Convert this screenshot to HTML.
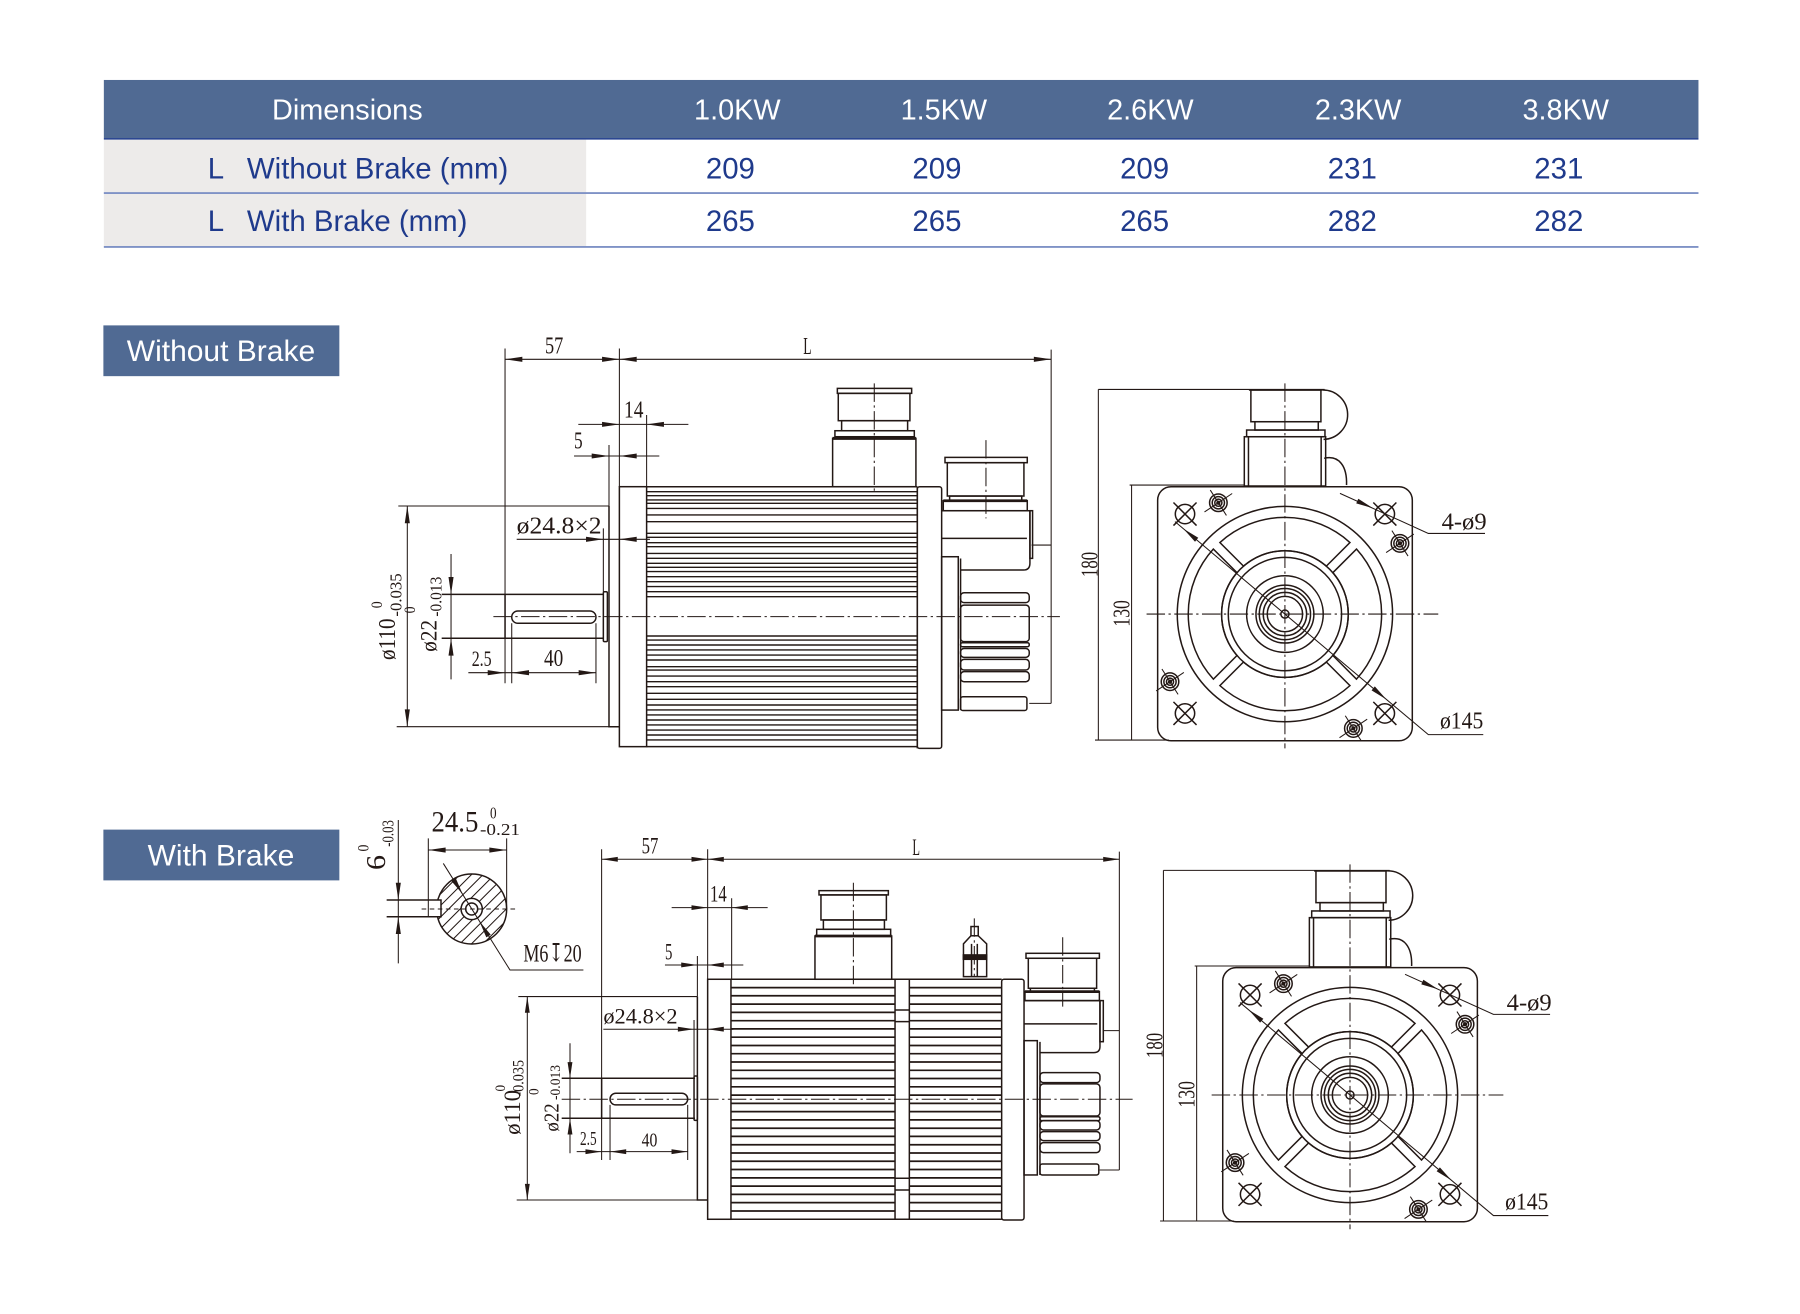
<!DOCTYPE html>
<html><head><meta charset="utf-8">
<style>
html,body{margin:0;padding:0;background:#fff;}
svg{display:block;}
.o{fill:none;stroke:#231815;stroke-width:1.3;}
.t{fill:none;stroke:#231815;stroke-width:0.9;}
.c{fill:none;stroke:#231815;stroke-width:0.9;stroke-dasharray:16 3 2 3;}
.a{fill:#231815;stroke:none;}
.d{font-family:"Liberation Serif","DejaVu Serif",serif;fill:#231815;}
.s{font-family:"Liberation Sans",Arial,sans-serif;}
</style></head><body>
<svg width="1800" height="1314" viewBox="0 0 1560 1138.8" preserveAspectRatio="none" xmlns="http://www.w3.org/2000/svg">
<defs>
<clipPath id="cp"><circle cx="408.8" cy="787.8" r="30.3"/></clipPath>
<g id="fv">
 <g class="o">
  <rect x="-110.3" y="-110.4" width="220.7" height="220.2" rx="11.6"/>
  <circle r="93.3"/><circle r="54.9"/><circle r="49.1"/><circle r="33.2"/><circle r="25.1"/><circle r="22.2"/><circle r="18.8"/><circle r="15.3"/><circle r="3.5"/>
  <path d="M-35.89,-41.54 L-56.36,-62.01 A83.8,83.8 0 0 1 56.36,-62.01 L35.89,-41.54 A54.9,54.9 0 0 0 -35.89,-41.54 Z"/>
  <path transform="rotate(90)" d="M-35.89,-41.54 L-56.36,-62.01 A83.8,83.8 0 0 1 56.36,-62.01 L35.89,-41.54 A54.9,54.9 0 0 0 -35.89,-41.54 Z"/>
  <path transform="rotate(180)" d="M-35.89,-41.54 L-56.36,-62.01 A83.8,83.8 0 0 1 56.36,-62.01 L35.89,-41.54 A54.9,54.9 0 0 0 -35.89,-41.54 Z"/>
  <path transform="rotate(270)" d="M-35.89,-41.54 L-56.36,-62.01 A83.8,83.8 0 0 1 56.36,-62.01 L35.89,-41.54 A54.9,54.9 0 0 0 -35.89,-41.54 Z"/>
  <!-- holes -->
  <g transform="translate(-86.6,-86.7)"><circle r="8.4"/><path d="M-10 -10L10 10M-10 10L10 -10"/></g>
  <g transform="translate(86.6,-86.7)"><circle r="8.4"/><path d="M-10 -10L10 10M-10 10L10 -10"/></g>
  <g transform="translate(-86.6,86.1)"><circle r="8.4"/><path d="M-10 -10L10 10M-10 10L10 -10"/></g>
  <g transform="translate(86.6,86.1)"><circle r="8.4"/><path d="M-10 -10L10 10M-10 10L10 -10"/></g>
  <!-- connector -->
  <path d="M-31.2 -194.2H32.4"/>
  <rect x="-29.5" y="-194.2" width="60.7" height="27.5"/>
  <rect x="-26" y="-166.7" width="54.9" height="7.2"/>
  <rect x="-33.2" y="-159.5" width="67.9" height="5.8"/>
  <rect x="-35.2" y="-153.7" width="70.5" height="42.7"/>
  <path d="M-31.6 -153.7V-111M31.4 -153.7V-111"/>
  <path d="M32.4 -194.2 A21.4 21.4 0 0 1 33.5 -151.4"/>
  <path d="M34 -135 C47 -138 54 -128 53.4 -111.8"/>
 </g>
 <!-- screws -->
 <g class="o" stroke-width="1.5">
  <g transform="translate(-57.7,-96.5)"><circle r="7.6"/><circle r="5.3"/><circle r="3.1"/><circle r="1.2" fill="#231815"/><path class="t" d="M-12 8L12 -8M-7 -11L7 11"/></g>
  <g transform="translate(99.7,-61.3)"><circle r="7.6"/><circle r="5.3"/><circle r="3.1"/><circle r="1.2" fill="#231815"/><path class="t" d="M-12 8L12 -8M-7 -11L7 11"/></g>
  <g transform="translate(-99.6,58.6)"><circle r="7.6"/><circle r="5.3"/><circle r="3.1"/><circle r="1.2" fill="#231815"/><path class="t" d="M-12 8L12 -8M-7 -11L7 11"/></g>
  <g transform="translate(59.3,99.1)"><circle r="7.6"/><circle r="5.3"/><circle r="3.1"/><circle r="1.2" fill="#231815"/><path class="t" d="M-12 8L12 -8M-7 -11L7 11"/></g>
 </g>
 <path class="c" d="M-119.9 0H132.9M0 -199.9V116.4"/>
 <!-- dims -->
 <path class="t" d="M-161.7 -194.7V109.2M-161.7 -194.7H34.4M-164.6 109.2H-100.6M-132.9 -111.8V109.2M-134.6 -111.8H-34.6"/>
 <path class="t" d="M47.7 -104.6L124.3 -69.9H173.4M-95.3 -80.1L124.3 104.5H171.9"/>
 <polygon class="a" points="76.4,-91.7 61.8,-95.9 63.6,-99.9"/>
 <polygon class="a" points="-88,-74 -75.1,-66.1 -77.9,-62.7"/>
 <polygon class="a" points="88,74 77.9,62.7 75.1,66.1"/>
</g>
</defs>

<!-- TABLE -->
<rect x="90" y="69.3" width="1382" height="50.5" fill="#506a93"/>
<rect x="90" y="121" width="418" height="93" fill="#edebea"/>
<line x1="90" y1="120.3" x2="1472" y2="120.3" stroke="#2c4792" stroke-width="1.4"/>
<line x1="90" y1="167.3" x2="1472" y2="167.3" stroke="#7f92c6" stroke-width="1.6"/>
<line x1="90" y1="214" x2="1472" y2="214" stroke="#7f92c6" stroke-width="1.6"/>
<g class="s" font-size="25" fill="#fff" text-anchor="middle">
<text x="301" y="103.4">Dimensions</text>
<text x="639" y="103.4">1.0KW</text>
<text x="818" y="103.4">1.5KW</text>
<text x="997" y="103.4">2.6KW</text>
<text x="1177" y="103.4">2.3KW</text>
<text x="1357" y="103.4">3.8KW</text>
</g>
<g class="s" font-size="25.5" fill="#1f3a8c">
<text x="180" y="154.5">L</text><text x="214" y="154.5">Without Brake (mm)</text>
<text x="180" y="200">L</text><text x="214" y="200">With Brake (mm)</text>
<g text-anchor="middle">
<text x="633" y="154.5">209</text><text x="812" y="154.5">209</text><text x="992" y="154.5">209</text><text x="1172" y="154.5">231</text><text x="1351" y="154.5">231</text>
<text x="633" y="200">265</text><text x="812" y="200">265</text><text x="992" y="200">265</text><text x="1172" y="200">282</text><text x="1351" y="200">282</text>
</g></g>

<!-- LABEL BOXES -->
<rect x="89.6" y="282" width="204.5" height="44" fill="#506a93"/>
<text class="s" x="191.5" y="313" font-size="26" fill="#fff" text-anchor="middle">Without Brake</text>
<rect x="89.6" y="719" width="204.5" height="44" fill="#506a93"/>
<text class="s" x="191.5" y="750" font-size="26" fill="#fff" text-anchor="middle">With Brake</text>

<!-- ============ SIDE VIEW 1 ============ -->
<g class="t">
 <path d="M437.7 311.4H911M437.7 302V592.2M536.8 302V421.8M911 303V609.6M894 472.4H911M892 609.6H911"/>
 <path d="M501.2 367.8H596.6M560.4 359.7V421.8M497.5 395.2H571.4M527.8 385.7V438.5"/>
 <path d="M345.2 438.5H527.8M343.8 629.8H527.8M353 438.5V629.8M390.9 480.1V588.8"/>
 <path d="M405.9 583H516.5M443.5 540.2V592.2M516.5 540.2V592.2M447.8 467.4H563.3M522.9 457.9V512.8"/>
</g>
<g class="a">
 <polygon points="437.7,311.4 452.7,309.2 452.7,313.6"/>
 <polygon points="536.8,311.4 521.8,309.2 521.8,313.6"/>
 <polygon points="536.8,311.4 551.8,309.2 551.8,313.6"/>
 <polygon points="911,311.4 896,309.2 896,313.6"/>
 <polygon points="536.8,367.8 521.8,365.6 521.8,370"/>
 <polygon points="560.4,367.8 575.4,365.6 575.4,370"/>
 <polygon points="527.8,395.2 512.8,393 512.8,397.4"/>
 <polygon points="536.8,395.2 551.8,393 551.8,397.4"/>
 <polygon points="353,438.5 350.8,453.5 355.2,453.5"/>
 <polygon points="353,629.8 350.8,614.8 355.2,614.8"/>
 <polygon points="390.9,515.1 388.7,500.1 393.1,500.1"/>
 <polygon points="390.9,553.2 388.7,568.2 393.1,568.2"/>
 <polygon points="437.7,583 422.7,580.8 422.7,585.2"/>
 <polygon points="443.5,583 458.5,580.8 458.5,585.2"/>
 <polygon points="516.5,583 501.5,580.8 501.5,585.2"/>
 <polygon points="522.9,467.4 507.9,465.2 507.9,469.6"/>
 <polygon points="536.8,467.4 551.8,465.2 551.8,469.6"/>
</g>
<g class="o">
 <path d="M382.8 515.1H522.9M382.8 553.2H522.9M437.7 515.1V553.2"/>
 <rect x="522.9" y="512.8" width="3.5" height="43.3" rx="1"/>
 <rect x="443.5" y="529.5" width="73" height="10.7" rx="5.3"/>
 <path d="M527.8 438.5V629.8H536.8"/>
 <rect x="536.8" y="421.8" width="23.6" height="225.3"/>
 <path d="M560.4 421.8H795M560.4 647.1H795M795 421.8V648.6"/>
 <rect x="795" y="421.8" width="21.1" height="226.8" rx="2"/>
 <path stroke-width="1.2" d="M560.4 426.1H795M560.4 429.6H795M560.4 433.3H795M560.4 436.2H795M560.4 440.6H795M560.4 446.3H795M560.4 452.1H795M560.4 462.2H795M560.4 465.7H795M560.4 470.3H795M560.4 473.8H795M560.4 479.6H795M560.4 483.9H795M560.4 488.2H795M560.4 491.7H795M560.4 495.4H795M560.4 499.8H795M560.4 504.1H795M560.4 508.4H795M560.4 512.8H795M560.4 517.1H795M560.4 551.2H795M560.4 554.7H795M560.4 559H795M560.4 563.3H795M560.4 567.7H795M560.4 572H795M560.4 577.8H795M560.4 580.7H795M560.4 585.9H795M560.4 590.8H795M560.4 595.1H795M560.4 600.9H795M560.4 606.1H795M560.4 611H795M560.4 615.3H795M560.4 619.6H795M560.4 624H795M560.4 628.3H795M560.4 632.7H795M560.4 637H795M560.4 641.3H795"/>
 <!-- connector 1 -->
 <rect x="725.7" y="336.6" width="64.4" height="4.3"/>
 <rect x="726.5" y="340.9" width="62.1" height="23.7"/>
 <rect x="729.4" y="364.6" width="57.2" height="8.7"/>
 <rect x="723.6" y="373.3" width="68.8" height="5.2"/>
 <rect x="721.6" y="379.9" width="72.2" height="41.9"/>
 <path stroke-width="2.6" d="M721.6 379.9H793.8"/>
 <!-- connector 2 -->
 <rect x="819" y="396.4" width="71.3" height="4.6"/>
 <rect x="821" y="401" width="66.4" height="28.9"/>
 <rect x="823" y="429.9" width="62.5" height="4.1"/>
 <rect x="817.5" y="434" width="72.8" height="8.6"/>
 <path stroke-width="2.4" d="M817.5 434H890.3"/>
 <!-- encoder cover -->
 <path d="M816.1 442.6H892.6V488Q892.6 494 887 494H832.5M816.1 466.6H890"/>
 <rect x="892.6" y="442.6" width="2.3" height="41.3"/>
 <rect x="816.1" y="482.5" width="14.4" height="132.9"/>
 <path d="M832.5 484V615.4"/>
 <rect x="832.5" y="513.7" width="59.5" height="8.6" rx="3"/>
 <rect x="832.5" y="524.4" width="59.5" height="31.7" rx="3"/>
 <rect x="832.5" y="557" width="59.5" height="3.5" rx="1.5"/>
 <rect x="832.5" y="562" width="59.5" height="7.7" rx="3"/>
 <rect x="832.5" y="571.5" width="59.5" height="9.2" rx="3"/>
 <rect x="832.5" y="582.1" width="59.5" height="8.7" rx="3"/>
 <rect x="832.5" y="603.8" width="57.5" height="12" rx="2"/>
</g>
<path class="c" d="M427.6 534.4H918.6M757.7 332.3V425.3M854.5 381.4V449.3"/>
<g class="d" font-size="21">
 <text x="472.3" y="306.2" textLength="15.9" lengthAdjust="spacingAndGlyphs">57</text>
 <text x="696.2" y="306.8" textLength="7.2" lengthAdjust="spacingAndGlyphs">L</text>
 <text x="540.8" y="361.7" textLength="16.8" lengthAdjust="spacingAndGlyphs">14</text>
 <text x="497.5" y="388.8" textLength="7.5" lengthAdjust="spacingAndGlyphs">5</text>
 <text x="447.8" y="462.2" textLength="73.6" lengthAdjust="spacingAndGlyphs">ø24.8×2</text>
 <text x="408.8" y="577.2" font-size="19" textLength="17.3" lengthAdjust="spacingAndGlyphs">2.5</text>
 <text x="471.5" y="577.2" textLength="16.7" lengthAdjust="spacingAndGlyphs">40</text>
 <text transform="translate(342.3,572) rotate(-90)" textLength="36" lengthAdjust="spacingAndGlyphs">ø110</text>
 <text transform="translate(331,527.2) rotate(-90)" font-size="14" textLength="6" lengthAdjust="spacingAndGlyphs">0</text>
 <text transform="translate(348,534.4) rotate(-90)" font-size="15" textLength="37.5" lengthAdjust="spacingAndGlyphs">-0.035</text>
 <text transform="translate(378.4,564.8) rotate(-90)" font-size="20" textLength="27.5" lengthAdjust="spacingAndGlyphs">ø22</text>
 <text transform="translate(359.7,531.6) rotate(-90)" font-size="14" textLength="6" lengthAdjust="spacingAndGlyphs">0</text>
 <text transform="translate(382.8,534.4) rotate(-90)" font-size="15" textLength="34.6" lengthAdjust="spacingAndGlyphs">-0.013</text>
</g>

<!-- FRONT VIEW 1 -->
<use href="#fv" transform="translate(1113.6,532.2)"/>
<g class="d" font-size="21" transform="translate(1113.6,532.2)">
 <text transform="translate(-162.5,-32.1) rotate(-90)" textLength="21.8" lengthAdjust="spacingAndGlyphs">180</text>
 <text transform="translate(-134.6,10.9) rotate(-90)" textLength="23" lengthAdjust="spacingAndGlyphs">130</text>
 <text x="135.8" y="-73.4" textLength="39" lengthAdjust="spacingAndGlyphs">4-ø9</text>
 <text x="134.4" y="99.1" textLength="37.5" lengthAdjust="spacingAndGlyphs">ø145</text>
</g>

<!-- SHAFT SECTION DETAIL -->
<g clip-path="url(#cp)" class="t">
 <path d="M313.8 822.8L383.8 752.8M323.8 822.8L393.8 752.8M333.8 822.8L403.8 752.8M343.8 822.8L413.8 752.8M353.8 822.8L423.8 752.8M363.8 822.8L433.8 752.8M373.8 822.8L443.8 752.8M383.8 822.8L453.8 752.8M393.8 822.8L463.8 752.8M403.8 822.8L473.8 752.8M413.8 822.8L483.8 752.8M423.8 822.8L493.8 752.8"/>
</g>
<g class="o">
 <circle cx="408.8" cy="787.8" r="30.3"/>
 <rect x="376" y="780" width="6.2" height="14.5" fill="#fff" stroke="none"/>
 <circle cx="408.8" cy="787.8" r="9.2" fill="#fff"/>
 <circle cx="408.8" cy="787.8" r="5.2"/>
 <path d="M335.1 780H382.2V794.5H335.1"/>
</g>
<g class="t">
 <path d="M371.2 726.6V794.5M439.1 726.6V787.8M371.2 736.7H439.1M345.2 710.7V834.9M384.2 748.3L442 840.7H505.6"/>
 <path stroke-dasharray="4 3" d="M365.4 787.8H447.8"/>
</g>
<g class="a">
 <polygon points="371.2,736.7 386.2,734.5 386.2,738.9"/>
 <polygon points="439.1,736.7 424.1,734.5 424.1,738.9"/>
 <polygon points="345.2,780 343,765 347.4,765"/>
 <polygon points="345.2,794.5 343,809.5 347.4,809.5"/>
 <polygon points="401,775 391.2,763.5 395,761.1"/>
 <polygon points="415.5,798.5 425.3,810 421.5,812.4"/>
</g>
<g class="d">
 <text x="374" y="720.8" font-size="26" textLength="40.6" lengthAdjust="spacingAndGlyphs">24.5</text>
 <text x="424.7" y="709.3" font-size="15" textLength="5.7" lengthAdjust="spacingAndGlyphs">0</text>
 <text x="416" y="723.7" font-size="15" textLength="34.7" lengthAdjust="spacingAndGlyphs">-0.21</text>
 <text transform="translate(333.7,754) rotate(-90)" font-size="24" textLength="13" lengthAdjust="spacingAndGlyphs">6</text>
 <text transform="translate(340.9,733.8) rotate(-90)" font-size="15" textLength="23" lengthAdjust="spacingAndGlyphs">-0.03</text>
 <text transform="translate(319.5,738) rotate(-90)" font-size="14" textLength="6" lengthAdjust="spacingAndGlyphs">0</text>
 <text x="453.6" y="833.5" font-size="22" textLength="50.5" lengthAdjust="spacingAndGlyphs">M6↧20</text>
</g>

<!-- ============ SIDE VIEW 2 ============ -->
<g class="t">
 <path d="M521.4 744.7H970.1M521.4 736V1005.3M613.3 736V848.7M970.1 738.1V1014M956 893.2H970.1M953 1014H970.1"/>
 <path d="M582.1 786.6H665.3M634.1 778.5V848.7M576.3 836.3H644.2M604.4 828.5V863.7"/>
 <path d="M449.2 863.7H604.4M447.8 1040H604.4M457 863.7V1040M494 904.2V999.5"/>
 <path d="M499.8 998.1H596M528.7 957.6V1005.3M596 957.6V1005.3M522.9 892H635.6M601.5 884V932.5"/>
</g>
<g class="a">
 <polygon points="521.4,744.7 535.4,742.6 535.4,746.8"/>
 <polygon points="613.3,744.7 599.3,742.6 599.3,746.8"/>
 <polygon points="613.3,744.7 627.3,742.6 627.3,746.8"/>
 <polygon points="970.1,744.7 956.1,742.6 956.1,746.8"/>
 <polygon points="613.3,786.6 599.3,784.5 599.3,788.7"/>
 <polygon points="634.1,786.6 648.1,784.5 648.1,788.7"/>
 <polygon points="604.4,836.3 590.4,834.2 590.4,838.4"/>
 <polygon points="613.3,836.3 627.3,834.2 627.3,838.4"/>
 <polygon points="457,863.7 454.9,877.7 459.1,877.7"/>
 <polygon points="457,1040 454.9,1026 459.1,1026"/>
 <polygon points="494,934.5 491.9,920.5 496.1,920.5"/>
 <polygon points="494,969.2 491.9,983.2 496.1,983.2"/>
 <polygon points="521.4,998.1 507.4,996 507.4,1000.2"/>
 <polygon points="528.7,998.1 542.7,996 542.7,1000.2"/>
 <polygon points="596,998.1 582,996 582,1000.2"/>
 <polygon points="601.5,892 587.5,889.9 587.5,894.1"/>
 <polygon points="613.3,892 627.3,889.9 627.3,894.1"/>
</g>
<g class="o">
 <path d="M486.8 934.5H602.3M486.8 969.2H602.3M521.4 934.5V969.2"/>
 <rect x="601.5" y="932.5" width="2.9" height="38.5" rx="1"/>
 <rect x="528.7" y="947.5" width="67.3" height="10.1" rx="5"/>
 <path d="M604.4 863.7V1040H613.3"/>
 <rect x="613.3" y="848.7" width="20.2" height="208"/>
 <path d="M633.5 848.7H868.1M633.5 1056.7H868.1M775.7 848.7V1056.7M788.1 848.7V1056.7"/>
 <rect x="868.1" y="848.7" width="19.4" height="208.6" rx="2"/>
 <path d="M775.7 875.3H788.1M775.7 885.4H788.1M775.7 1021.2H788.1M775.7 1031.3H788.1"/>
 <path stroke-width="1.5" d="M633.5 855.9H775.7M633.5 863H775.7M633.5 870.2H775.7M633.5 877.4H775.7M633.5 884.6H775.7M633.5 891.7H775.7M633.5 898.9H775.7M633.5 906.1H775.7M633.5 913.2H775.7M633.5 920.4H775.7M633.5 927.6H775.7M633.5 934.7H775.7M633.5 941.9H775.7M633.5 949.1H775.7M633.5 956.3H775.7M633.5 963.4H775.7M633.5 970.6H775.7M633.5 977.8H775.7M633.5 984.9H775.7M633.5 992.1H775.7M633.5 999.3H775.7M633.5 1006.4H775.7M633.5 1013.6H775.7M633.5 1020.8H775.7M633.5 1028H775.7M633.5 1035.1H775.7M633.5 1042.3H775.7M633.5 1049.5H775.7"/>
 <path stroke-width="1.5" d="M788.1 855.9H868.1M788.1 863H868.1M788.1 870.2H868.1M788.1 877.4H868.1M788.1 884.6H868.1M788.1 891.7H868.1M788.1 898.9H868.1M788.1 906.1H868.1M788.1 913.2H868.1M788.1 920.4H868.1M788.1 927.6H868.1M788.1 934.7H868.1M788.1 941.9H868.1M788.1 949.1H868.1M788.1 956.3H868.1M788.1 963.4H868.1M788.1 970.6H868.1M788.1 977.8H868.1M788.1 984.9H868.1M788.1 992.1H868.1M788.1 999.3H868.1M788.1 1006.4H868.1M788.1 1013.6H868.1M788.1 1020.8H868.1M788.1 1028H868.1M788.1 1035.1H868.1M788.1 1042.3H868.1M788.1 1049.5H868.1"/>
 <!-- connector 1 -->
 <rect x="709.8" y="771.9" width="60.1" height="3.7"/>
 <rect x="711.5" y="775.6" width="56.7" height="21.7"/>
 <rect x="713.6" y="797.3" width="52.9" height="8.1"/>
 <rect x="707.8" y="805.4" width="64.1" height="5.8"/>
 <rect x="706.3" y="811.2" width="66.5" height="37.5"/>
 <path stroke-width="2.4" d="M706.3 811.2H772.8"/>
 <!-- brake connector -->
 <rect x="841.5" y="803" width="6.3" height="8"/>
 <path d="M841.5 811L835 818V846.4H855.1V818L847.8 811"/>
 <path d="M842 818V846.4M847 818V846.4M833 848.7H856.5"/>
 <rect x="834.9" y="827.6" width="20.2" height="3.8" fill="#231815"/>
 <!-- encoder connector -->
 <rect x="889.2" y="826.2" width="63.6" height="4.3"/>
 <rect x="891.2" y="830.5" width="59.2" height="26"/>
 <rect x="893" y="856.5" width="55.5" height="2.9"/>
 <rect x="888.3" y="859.4" width="64.5" height="7.8"/>
 <path stroke-width="2.4" d="M888.3 859.4H952.8"/>
 <!-- encoder cover -->
 <path d="M887.5 867.2H953.3V907Q953.3 912.3 948 912.3H901.3M887.5 887.4H951"/>
 <rect x="953.3" y="867.2" width="2.9" height="35.6"/>
 <rect x="887.5" y="901.9" width="11.5" height="116.4"/>
 <path d="M901.3 903V1018.3"/>
 <rect x="901.3" y="929.6" width="52" height="8.7" rx="3"/>
 <rect x="901.3" y="939.4" width="52" height="27.8" rx="3"/>
 <rect x="901.3" y="967.8" width="52" height="3.4" rx="1.5"/>
 <rect x="901.3" y="971.2" width="52" height="8.1" rx="3"/>
 <rect x="901.3" y="980.7" width="52" height="7.8" rx="3"/>
 <rect x="901.3" y="990.3" width="52" height="8.6" rx="3"/>
 <rect x="901.3" y="1008.8" width="51" height="9.5" rx="2"/>
</g>
<path class="c" d="M486.8 952.7H981.6M739.6 765V853.6M844.4 795.9V846M921 812.3V872.4"/>
<g class="d" font-size="20">
 <text x="556.1" y="739.5" textLength="14.5" lengthAdjust="spacingAndGlyphs">57</text>
 <text x="790.7" y="741" textLength="6.6" lengthAdjust="spacingAndGlyphs">L</text>
 <text x="615.3" y="781.4" textLength="14.5" lengthAdjust="spacingAndGlyphs">14</text>
 <text x="576.3" y="831.4" textLength="6.4" lengthAdjust="spacingAndGlyphs">5</text>
 <text x="522.9" y="886.9" font-size="19" textLength="64.4" lengthAdjust="spacingAndGlyphs">ø24.8×2</text>
 <text x="502.7" y="992.3" font-size="17" textLength="14.4" lengthAdjust="spacingAndGlyphs">2.5</text>
 <text x="556.1" y="993.7" font-size="17" textLength="13.6" lengthAdjust="spacingAndGlyphs">40</text>
 <text transform="translate(450.7,983.6) rotate(-90)" textLength="39" lengthAdjust="spacingAndGlyphs">ø110</text>
 <text transform="translate(437.7,946) rotate(-90)" font-size="13" textLength="5.7" lengthAdjust="spacingAndGlyphs">0</text>
 <text transform="translate(453.6,950.4) rotate(-90)" font-size="14" textLength="31.8" lengthAdjust="spacingAndGlyphs">-0.035</text>
 <text transform="translate(483.9,980.7) rotate(-90)" font-size="18" textLength="24.5" lengthAdjust="spacingAndGlyphs">ø22</text>
 <text transform="translate(466.6,949) rotate(-90)" font-size="13" textLength="5.7" lengthAdjust="spacingAndGlyphs">0</text>
 <text transform="translate(485.3,953.3) rotate(-90)" font-size="13" textLength="30.3" lengthAdjust="spacingAndGlyphs">-0.013</text>
</g>

<!-- FRONT VIEW 2 -->
<use href="#fv" transform="translate(1170,949)"/>
<g class="d" font-size="21" transform="translate(1170,949)">
 <text transform="translate(-162.5,-32.1) rotate(-90)" textLength="21.8" lengthAdjust="spacingAndGlyphs">180</text>
 <text transform="translate(-134.6,10.9) rotate(-90)" textLength="23" lengthAdjust="spacingAndGlyphs">130</text>
 <text x="135.8" y="-73.4" textLength="39" lengthAdjust="spacingAndGlyphs">4-ø9</text>
 <text x="134.4" y="99.1" textLength="37.5" lengthAdjust="spacingAndGlyphs">ø145</text>
</g>
</svg>
</body></html>
